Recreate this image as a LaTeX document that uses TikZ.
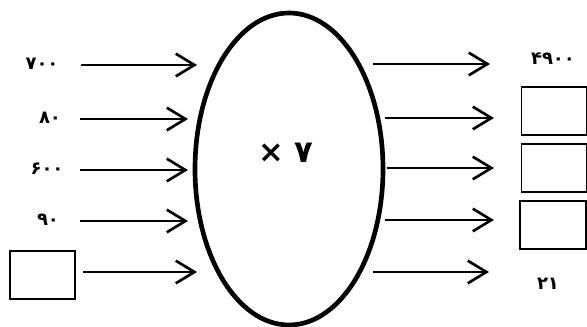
\documentclass[tikz,border=0pt]{standalone}
\usepackage{fontspec}
\newfontfamily\arabicfont[Script=Arabic]{DejaVu Sans}
\usetikzlibrary{arrows.meta,shapes.geometric}

\tikzset{every picture/.style={line width=0.75pt}}
\tikzset{
  arr/.style={line width=2pt,-{Straight Barb[length=14pt,width=17pt,line width=2pt]}},
  numlbl/.style={inner sep=0.75pt,font=\arabicfont\bfseries\fontsize{13.5}{16}\selectfont},
  blank/.style={draw,line width=1.3pt,inner sep=0pt}
}

\begin{document}
\begin{tikzpicture}[x=0.75pt,y=0.75pt,yscale=-1,xscale=1]
\useasboundingbox (0,0) rectangle (587,327);

%Ellipse
\node (op) [draw,ellipse,line width=3.5pt,inner sep=0pt,outer sep=0pt,minimum width=141pt,minimum height=234pt] at (289,169) {};
% Text Node
\node (optxt) [inner sep=0.75pt,font=\arabicfont\bfseries\fontsize{23}{27}\selectfont] at (286,153) {× ۷};

% Text Node
\node (in1) [numlbl] at (42,64) {۷۰۰};
% Text Node
\node (in2) [numlbl] at (50,118) {۸۰};
% Text Node
\node (in3) [numlbl] at (47,169) {۶۰۰};
% Text Node
\node (in4) [numlbl] at (48,220) {۹۰};
% Box Node
\node (in5) [blank,minimum width=48.75pt,minimum height=36pt] at (42.5,275) {};

% Text Node
\node (out1) [numlbl] at (553,59) {۴۹۰۰};
% Box Node
\node (out2) [blank,minimum width=48.75pt,minimum height=36pt] at (554,111) {};
% Box Node
\node (out3) [blank,minimum width=48.75pt,minimum height=36pt] at (554,168) {};
% Box Node
\node (out4) [blank,minimum width=49.5pt,minimum height=36pt] at (553,225) {};
% Text Node
\node (out5) [numlbl] at (548,284) {۲۱};

%Arrow ends
\coordinate (s1) at (81,65);   \coordinate (e1) at (197,65);
\coordinate (s2) at (80,119);  \coordinate (e2) at (188,119);
\coordinate (s3) at (80,170);  \coordinate (e3) at (188,170);
\coordinate (s4) at (80,221);  \coordinate (e4) at (188,221);
\coordinate (s5) at (83,272);  \coordinate (e5) at (197,272);
\coordinate (t1) at (373,64);  \coordinate (f1) at (490,64);
\coordinate (t2) at (385,118); \coordinate (f2) at (494,118);
\coordinate (t3) at (387,168); \coordinate (f3) at (494,168);
\coordinate (t4) at (385,220); \coordinate (f4) at (494,220);
\coordinate (t5) at (373,272); \coordinate (f5) at (489,272);

%Straight Lines
\foreach \i in {1,...,5}{
  \draw [arr] (s\i) -- (e\i);
  \draw [arr] (t\i) -- (f\i);
}

\end{tikzpicture}
\end{document}
